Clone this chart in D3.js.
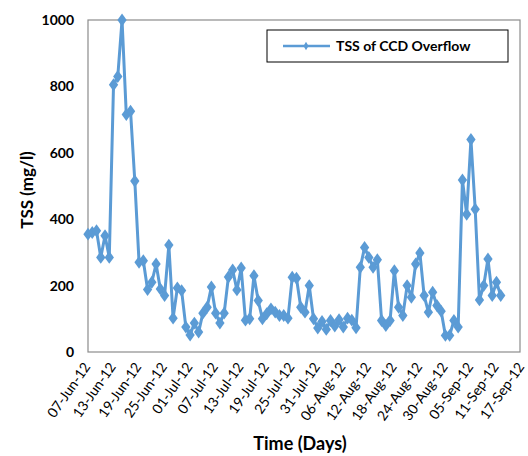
<!DOCTYPE html>
<html><head><meta charset="utf-8">
<script src="https://cdn.jsdelivr.net/npm/d3@7"></script>
<style>body{margin:0;background:#fff}svg{display:block}</style>
</head><body><svg id="c" width="528" height="456"></svg>
<script>
const startDate = "2012-06-07";
const tssValues = [355,360,365,285,350,285,805,830,1000,715,725,515,270,275,188,210,265,190,170,322,102,193,185,75,51,87,60,117,135,196,117,87,117,226,247,187,253,96,100,230,155,100,115,130,120,110,110,102,225,222,135,120,200,100,72,92,68,95,78,97,75,102,96,73,255,315,285,255,278,95,80,95,245,135,110,200,165,265,298,170,120,180,140,123,50,50,95,75,518,415,640,430,157,200,280,170,210,170];
const tickDates = ["2012-06-07","2012-06-13","2012-06-19","2012-06-25","2012-07-01","2012-07-07","2012-07-13","2012-07-19","2012-07-25","2012-07-31","2012-08-06","2012-08-12","2012-08-18","2012-08-24","2012-08-30","2012-09-05","2012-09-11","2012-09-17"];
const yTicks = [0,200,400,600,800,1000];
const seriesName = "TSS of CCD Overflow";

const parse = d3.utcParse("%Y-%m-%d");
const fmt = d3.utcFormat("%d-%b-%y");
const t0 = parse(startDate);
const data = tssValues.map((v,i)=>({date:d3.utcDay.offset(t0,i), v}));

const svg = d3.select("#c");
const L=88,R=520,T=20,B=352;
const x = d3.scaleUtc().domain([parse(tickDates[0]), parse(tickDates[tickDates.length-1])]).range([L,R+2]);
const y = d3.scaleLinear().domain([0,1000]).range([B,T]);
const color="#5B9BD5";
const font="Lato, 'Open Sans', sans-serif";

svg.append("rect").attr("x",L).attr("y",T).attr("width",R-L).attr("height",B-T)
  .attr("fill","none").attr("stroke","#8c8c8c").attr("stroke-width",1.2);

const ya = svg.append("g").attr("transform",`translate(${L},0)`)
  .call(d3.axisLeft(y).tickValues(yTicks).tickFormat(d3.format("d")).tickSize(0).tickPadding(14));
ya.select(".domain").remove();
ya.selectAll("text").attr("font-family",font).attr("font-size",14).attr("font-weight","bold").attr("fill","#000");

const xa = svg.append("g").attr("transform",`translate(0,${B})`)
  .call(d3.axisBottom(x).tickValues(tickDates.map(parse)).tickFormat(fmt).tickSize(0));
xa.select(".domain").remove();
xa.selectAll("text").attr("font-family",font).attr("font-size",14).attr("fill","#000")
  .attr("text-anchor","end").attr("dy","0").attr("transform","translate(0,13) rotate(-55)");

const line = d3.line().x(d=>x(d.date)).y(d=>y(d.v));
svg.append("path").datum(data).attr("d",line).attr("fill","none")
  .attr("stroke",color).attr("stroke-width",3).attr("stroke-linejoin","round");
const diamond = d3.symbol().type(d3.symbolDiamond).size(48);
svg.append("g").selectAll("path").data(data).join("path")
  .attr("d",diamond).attr("transform",d=>`translate(${x(d.date)},${y(d.v)}) scale(1.25,1)`).attr("fill",color);

// legend
const lg = svg.append("g");
lg.append("rect").attr("x",267).attr("y",30).attr("width",241).attr("height",32)
  .attr("fill","#fff").attr("stroke","#000").attr("stroke-width",1);
lg.append("line").attr("x1",283).attr("x2",330).attr("y1",46).attr("y2",46).attr("stroke",color).attr("stroke-width",2.5);
lg.append("path").attr("d",d3.symbol().type(d3.symbolDiamond).size(22)()).attr("transform","translate(306,46)").attr("fill",color);
lg.append("text").attr("x",336).attr("y",51).text(seriesName).attr("font-family",font).attr("font-size",14).attr("font-weight","bold");

svg.append("text").attr("transform","translate(33,190) rotate(-90)").attr("text-anchor","middle")
  .attr("font-family",font).attr("font-size",17).attr("font-weight","bold").text("TSS (mg/l)");
svg.append("text").attr("x",300).attr("y",450).attr("text-anchor","middle")
  .attr("font-family",font).attr("font-size",18).attr("font-weight","bold").text("Time (Days)");
</script></body></html>
